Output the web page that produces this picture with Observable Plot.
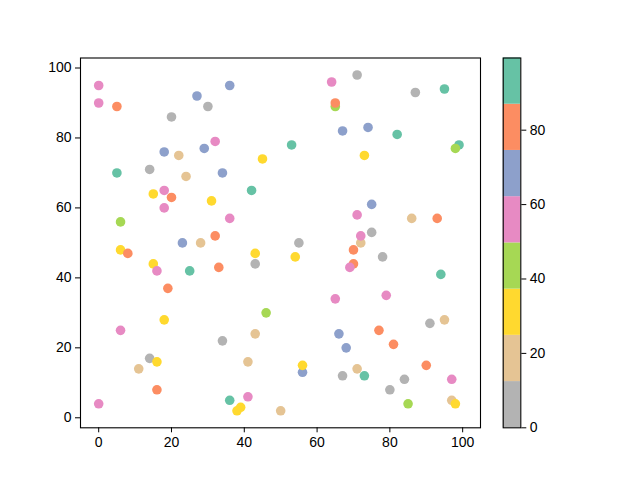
<!DOCTYPE html>
<html><head><meta charset="utf-8">
<script src="https://cdn.jsdelivr.net/npm/d3@7"></script>
<script src="https://cdn.jsdelivr.net/npm/@observablehq/plot@0.6"></script>
<style>
body{margin:0;background:#fff}
#wrap{position:relative;width:640px;height:480px;background:#fff}
#wrap svg{position:absolute;top:0}
</style></head><body><div id="wrap"></div>
<script>
// point data (x, y, colour value)
const xs=[0,0,5,20,27,30,36,64,65,65,71,87,95,67,74,82,99,98,53,45,73,32,29,18,22,14,5,24,34,42,15,18,20,18,31,6,23,28,32,6,8,15,16,25,33,19,36,55,43,43,54,65,75,71,86,93,75,72,72,70,78,70,69,94,79,18,6,14,16,11,16,0,46,43,34,41,56,56,67,36,41,39,38,50,66,68,77,81,91,95,71,73,90,84,80,97,85,97,98];
const ys=[95,90,89,86,92,89,95,96,89,90,98,93,94,82,83,81,78,77,78,74,75,79,77,76,75,71,70,69,70,65,64,65,63,60,62,56,50,50,52,48,47,44,42,42,43,37,57,50,47,44,46,34,61,58,57,57,53,50,52,48,46,44,43,41,35,28,25,17,16,14,8,4,30,24,22,16,13,15,12,5,6,3,2,2,24,20,25,21,27,28,14,12,15,11,8,11,4,5,4];
const cs=[55,55,80,6,68,6,68,55,43,80,6,6,93,68,68,93,93,43,93,30,30,55,68,68,18,6,93,18,68,93,30,55,80,55,30,43,68,18,80,30,80,30,55,93,80,80,55,6,30,6,30,55,68,55,18,80,6,18,55,80,6,80,55,93,55,30,55,6,30,18,80,55,43,18,6,18,68,30,6,93,55,30,30,18,68,68,80,80,6,18,18,93,80,6,6,55,43,18,30];
const colors=["#b3b3b3","#e5c494","#ffd92f","#a6d854","#e78ac3","#8da0cb","#fc8d62","#66c2a5"];
const cMin=0, cMax=99.4;
const axisTicks=[0,20,40,60,80,100];
const cbTicks=[0,20,40,60,80];

const step=(cMax-cMin)/colors.length;
const thresholds=d3.range(1,colors.length).map(i=>cMin+i*step);
const idx=d3.range(xs.length);
const font={fontFamily:"'Liberation Sans', Arial, sans-serif",fontSize:"14px",background:"transparent",color:"#000"};

const main=Plot.plot({
  width:640,height:480,
  marginLeft:80,marginRight:160,marginTop:57.5,marginBottom:52.7,
  style:font,
  x:{domain:[-5,104.9]},
  y:{domain:[-2.86,102.86]},
  color:{type:"threshold",domain:thresholds,range:colors},
  marks:[
    Plot.dot(idx,{x:i=>xs[i],y:i=>ys[i],fill:i=>cs[i],r:4.8,stroke:null}),
    Plot.frame({stroke:"#000",strokeWidth:1.1}),
    Plot.axisX({ticks:axisTicks,tickSize:5,tickPadding:4,tickFormat:d=>String(d),label:null}),
    Plot.axisY({ticks:axisTicks,tickSize:5,tickPadding:4,tickFormat:d=>String(d),label:null})
  ]
});

const bins=d3.range(colors.length);
const cb=Plot.plot({
  width:160,height:480,
  marginLeft:22.7,marginRight:119.7,marginTop:57.5,marginBottom:52.7,
  style:font,
  x:{domain:[0,1],axis:null},
  y:{domain:[cMin,cMax]},
  color:{type:"identity"},
  marks:[
    Plot.rect(bins,{x1:0,x2:1,y1:i=>cMin+i*step,y2:i=>cMin+(i+1)*step,fill:i=>colors[i]}),
    Plot.frame({stroke:"#000",strokeWidth:1.1}),
    Plot.axisY({anchor:"right",ticks:cbTicks,tickSize:5,tickPadding:4,tickFormat:d=>String(d),label:null})
  ]
});
cb.style.left="480px";
const wrap=document.getElementById("wrap");
wrap.appendChild(main);
wrap.appendChild(cb);
</script></body></html>
